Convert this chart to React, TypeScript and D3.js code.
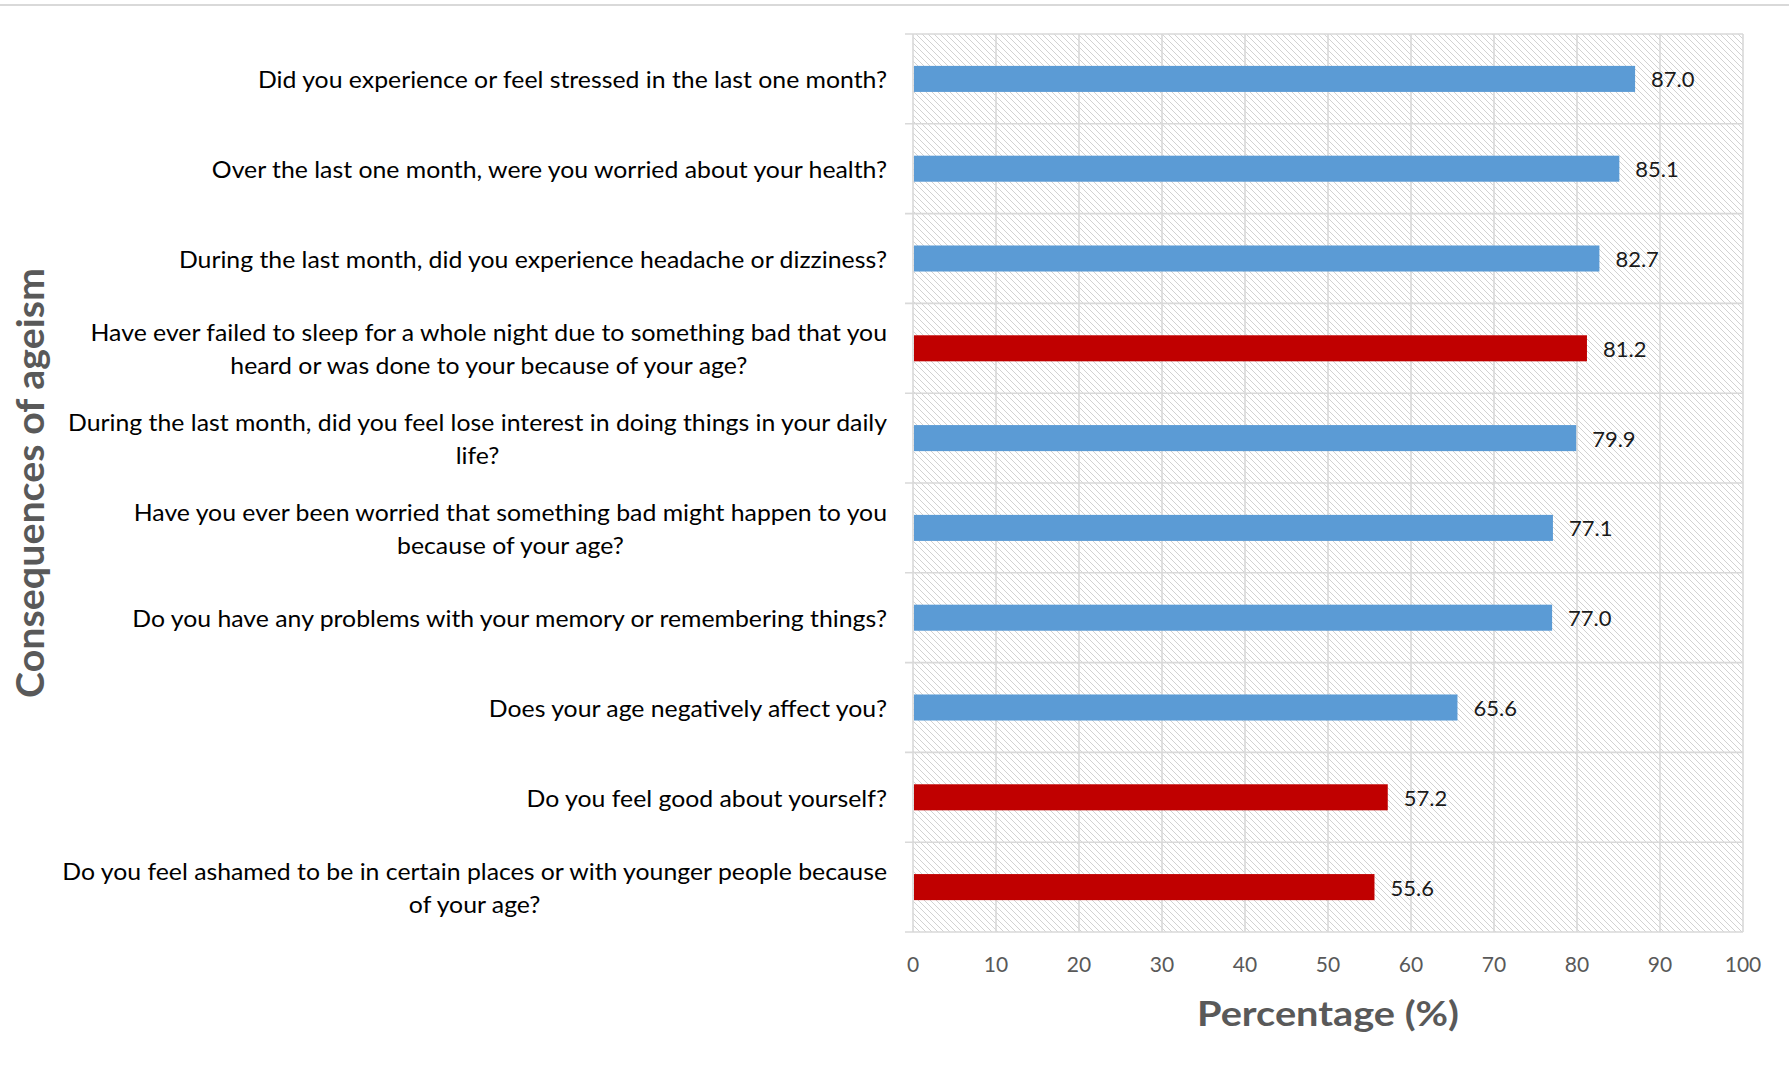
import React, { useEffect, useRef } from "react";
import * as d3 from "d3";

const categories: string[] = [
  "Did you experience or feel stressed in the last one month?",
  "Over the last one month, were you worried about your health?",
  "During the last month, did you experience headache or dizziness?",
  "Have ever failed to sleep for a whole night due to something bad that you\nheard or was done to your because of your age?",
  "During the last month, did you feel lose interest in doing things in your daily\nlife?",
  "Have you ever been worried that something bad might happen to you\nbecause of your age?",
  "Do you have any problems with your memory or remembering things?",
  "Does your age negatively affect you?",
  "Do you feel good about yourself?",
  "Do you feel ashamed to be in certain places or with younger people because\nof your age?",
];
const values: number[] = [87.0, 85.1, 82.7, 81.2, 79.9, 77.1, 77.0, 65.6, 57.2, 55.6];
const highlighted: boolean[] = [false, false, false, true, false, false, false, false, true, true];
const xTicks: number[] = [0, 10, 20, 30, 40, 50, 60, 70, 80, 90, 100];
const xTitle = "Percentage (%)";
const yTitle = "Consequences of ageism";

const W = 1789;
const H = 1067;
const FONT = "Lato, Carlito, Calibri, 'Noto Sans', sans-serif";

export default function App() {
  const ref = useRef<SVGSVGElement | null>(null);

  useEffect(() => {
    const svg = d3.select(ref.current);
    svg.selectAll("*").remove();

    const left = 913, right = 1743, top = 34, bottom = 932;
    const x = d3.scaleLinear().domain([0, 100]).range([left, right]);
    const y = d3.scaleBand<number>().domain(d3.range(categories.length)).range([top, bottom]).padding(0);
    const barH = y.bandwidth() * 0.29;
    const grid = "#d9d9d9";

    const defs = svg.append("defs");
    const pat = defs.append("pattern").attr("id", "hatch").attr("width", 6).attr("height", 6)
      .attr("patternUnits", "userSpaceOnUse");
    pat.append("rect").attr("width", 6).attr("height", 6).attr("fill", "#ffffff");
    pat.append("path").attr("d", "M-1,-1 L7,7 M-1,5 L1,7 M5,-1 L7,1")
      .attr("stroke", "#d2d2d2").attr("stroke-width", 1);

    // top rule
    svg.append("line").attr("x1", 0).attr("x2", W).attr("y1", 5).attr("y2", 5)
      .attr("stroke", grid).attr("stroke-width", 2);

    // plot background
    svg.append("rect").attr("x", left).attr("y", top).attr("width", right - left).attr("height", bottom - top)
      .attr("fill", "url(#hatch)");

    // vertical gridlines
    svg.append("g").selectAll("line").data(xTicks).join("line")
      .attr("x1", d => x(d)).attr("x2", d => x(d)).attr("y1", top).attr("y2", bottom)
      .attr("stroke", grid).attr("stroke-width", 1.6);

    // horizontal separators with outward ticks
    const seps = d3.range(categories.length + 1).map(i => (i < categories.length ? (y(i) as number) : bottom));
    svg.append("g").selectAll("line").data(seps).join("line")
      .attr("x1", left - 8).attr("x2", right).attr("y1", d => d).attr("y2", d => d)
      .attr("stroke", grid).attr("stroke-width", 1.6);

    // bars
    svg.append("g").selectAll("rect").data(values).join("rect")
      .attr("x", x(0) + 1)
      .attr("y", (_, i) => (y(i) as number) + y.bandwidth() / 2 - barH / 2)
      .attr("width", d => x(d) - x(0) - 1)
      .attr("height", barH)
      .attr("fill", (_, i) => (highlighted[i] ? "#C00000" : "#5B9BD5"));

    // value labels
    svg.append("g").selectAll("text").data(values).join("text")
      .attr("x", d => x(d) + 16)
      .attr("y", (_, i) => (y(i) as number) + y.bandwidth() / 2)
      .attr("dominant-baseline", "central")
      .attr("font-family", FONT).attr("font-size", 22).attr("fill", "#1a1a1a")
      .text(d => d.toFixed(1));

    // x tick labels
    svg.append("g").selectAll("text").data(xTicks).join("text")
      .attr("x", d => x(d)).attr("y", 963)
      .attr("text-anchor", "middle").attr("dominant-baseline", "central")
      .attr("font-family", FONT).attr("font-size", 21).attr("fill", "#595959")
      .text(d => String(d));

    // category labels, calibrated width
    const labelFont = 24;
    const probe = svg.append("text").attr("font-family", FONT).attr("font-size", labelFont)
      .text(categories[0]);
    const probeW = (probe.node() as SVGTextElement).getComputedTextLength();
    probe.remove();
    const ratio = 629 / probeW;
    const labelRight = left - 26;
    const lineGap = 33;

    categories.forEach((cat, i) => {
      const lines = cat.split("\n");
      const cy = (y(i) as number) + y.bandwidth() / 2;
      const g = svg.append("g");
      const texts = lines.map((ln, j) =>
        g.append("text").attr("font-family", FONT).attr("font-size", labelFont).attr("fill", "#000")
          .attr("dominant-baseline", "central")
          .attr("y", cy + (j - (lines.length - 1) / 2) * lineGap)
          .text(ln)
      );
      const widths = texts.map(t => (t.node() as SVGTextElement).getComputedTextLength() * ratio);
      const maxW = d3.max(widths) as number;
      const centerX = labelRight - maxW / 2;
      texts.forEach((t, j) => {
        t.attr("x", centerX).attr("text-anchor", "middle")
          .attr("textLength", widths[j]).attr("lengthAdjust", "spacingAndGlyphs");
      });
    });

    // x title
    const xt = svg.append("text").attr("x", (left + right) / 2).attr("y", 1012)
      .attr("text-anchor", "middle").attr("dominant-baseline", "central")
      .attr("font-family", FONT).attr("font-size", 35).attr("font-weight", "bold").attr("fill", "#595959")
      .text(xTitle);
    xt.attr("textLength", 262).attr("lengthAdjust", "spacingAndGlyphs");

    // y title
    const yt = svg.append("text")
      .attr("transform", `translate(29, ${(top + bottom) / 2}) rotate(-90)`)
      .attr("text-anchor", "middle").attr("dominant-baseline", "central")
      .attr("font-family", FONT).attr("font-size", 38).attr("font-weight", "bold").attr("fill", "#595959")
      .text(yTitle);
    yt.attr("textLength", 430).attr("lengthAdjust", "spacingAndGlyphs");
  }, []);

  return (
    <svg
      ref={ref}
      width={W}
      height={H}
      style={{ position: "absolute", left: 0, top: 0, background: "#fff" }}
    />
  );
}
